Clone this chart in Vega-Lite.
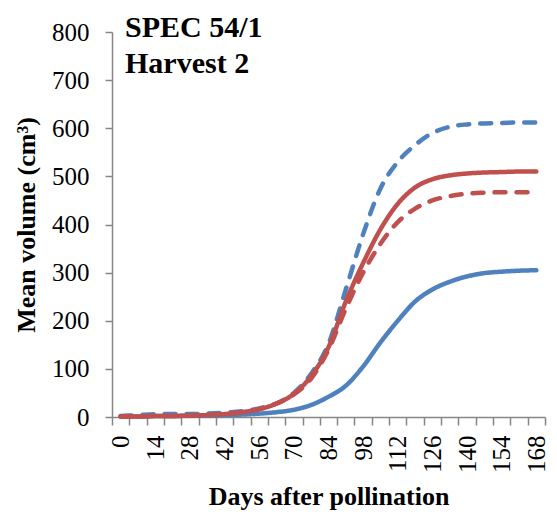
{
  "$schema": "https://vega.github.io/schema/vega-lite/v6.json",
  "width": 433,
  "height": 385,
  "autosize": "none",
  "padding": {"left": 112, "top": 32, "right": 12, "bottom": 98},
  "config": {
    "font": "Liberation Serif",
    "view": {"stroke": null},
    "axis": {
      "domainColor": "#868686",
      "tickColor": "#868686",
      "domainWidth": 1.5,
      "tickWidth": 1.5,
      "labelColor": "#000000",
      "labelFontSize": 25,
      "labelFont": "Liberation Serif",
      "titleFont": "Liberation Serif",
      "titleFontSize": 26,
      "titleFontWeight": "bold",
      "titleColor": "#000000",
      "grid": false
    }
  },
  "title": {
    "text": ["SPEC 54/1", "Harvest 2"],
    "anchor": "start",
    "frame": "group",
    "orient": "top",
    "offset": -59,
    "dx": 13,
    "lineHeight": 36,
    "font": "Liberation Serif",
    "fontSize": 30,
    "fontWeight": "bold",
    "color": "#000000"
  },
  "data": {
    "values": [
      {"day": 0, "series": "BD", "value": 2}, {"day": 0, "series": "BS", "value": 1}, {"day": 0, "series": "RS", "value": 1}, {"day": 0, "series": "RD", "value": 1},
      {"day": 7, "series": "BD", "value": 4}, {"day": 7, "series": "BS", "value": 1}, {"day": 7, "series": "RS", "value": 1}, {"day": 7, "series": "RD", "value": 1},
      {"day": 14, "series": "BD", "value": 6}, {"day": 14, "series": "BS", "value": 2}, {"day": 14, "series": "RS", "value": 2}, {"day": 14, "series": "RD", "value": 2},
      {"day": 21, "series": "BD", "value": 6}, {"day": 21, "series": "BS", "value": 2}, {"day": 21, "series": "RS", "value": 2}, {"day": 21, "series": "RD", "value": 2},
      {"day": 28, "series": "BD", "value": 6}, {"day": 28, "series": "BS", "value": 3}, {"day": 28, "series": "RS", "value": 3}, {"day": 28, "series": "RD", "value": 3},
      {"day": 35, "series": "BD", "value": 7}, {"day": 35, "series": "BS", "value": 3}, {"day": 35, "series": "RS", "value": 4}, {"day": 35, "series": "RD", "value": 4},
      {"day": 42, "series": "BD", "value": 9}, {"day": 42, "series": "BS", "value": 4}, {"day": 42, "series": "RS", "value": 6}, {"day": 42, "series": "RD", "value": 6},
      {"day": 49, "series": "BD", "value": 12}, {"day": 49, "series": "BS", "value": 5}, {"day": 49, "series": "RS", "value": 10}, {"day": 49, "series": "RD", "value": 10},
      {"day": 56, "series": "BD", "value": 18}, {"day": 56, "series": "BS", "value": 7}, {"day": 56, "series": "RS", "value": 16}, {"day": 56, "series": "RD", "value": 17},
      {"day": 63, "series": "BD", "value": 28}, {"day": 63, "series": "BS", "value": 10}, {"day": 63, "series": "RS", "value": 28}, {"day": 63, "series": "RD", "value": 28},
      {"day": 70, "series": "BD", "value": 50}, {"day": 70, "series": "BS", "value": 15}, {"day": 70, "series": "RS", "value": 48}, {"day": 70, "series": "RD", "value": 47},
      {"day": 77, "series": "BD", "value": 90}, {"day": 77, "series": "BS", "value": 25}, {"day": 77, "series": "RS", "value": 85}, {"day": 77, "series": "RD", "value": 80},
      {"day": 84, "series": "BD", "value": 152}, {"day": 84, "series": "BS", "value": 42}, {"day": 84, "series": "RS", "value": 145}, {"day": 84, "series": "RD", "value": 140},
      {"day": 91, "series": "BD", "value": 265}, {"day": 91, "series": "BS", "value": 65}, {"day": 91, "series": "RS", "value": 240}, {"day": 91, "series": "RD", "value": 225},
      {"day": 98, "series": "BD", "value": 380}, {"day": 98, "series": "BS", "value": 105}, {"day": 98, "series": "RS", "value": 320}, {"day": 98, "series": "RD", "value": 300},
      {"day": 105, "series": "BD", "value": 475}, {"day": 105, "series": "BS", "value": 155}, {"day": 105, "series": "RS", "value": 390}, {"day": 105, "series": "RD", "value": 360},
      {"day": 112, "series": "BD", "value": 530}, {"day": 112, "series": "BS", "value": 200}, {"day": 112, "series": "RS", "value": 443}, {"day": 112, "series": "RD", "value": 405},
      {"day": 119, "series": "BD", "value": 565}, {"day": 119, "series": "BS", "value": 240}, {"day": 119, "series": "RS", "value": 477}, {"day": 119, "series": "RD", "value": 433},
      {"day": 126, "series": "BD", "value": 590}, {"day": 126, "series": "BS", "value": 265}, {"day": 126, "series": "RS", "value": 494}, {"day": 126, "series": "RD", "value": 450},
      {"day": 133, "series": "BD", "value": 603}, {"day": 133, "series": "BS", "value": 281}, {"day": 133, "series": "RS", "value": 502}, {"day": 133, "series": "RD", "value": 459},
      {"day": 140, "series": "BD", "value": 608}, {"day": 140, "series": "BS", "value": 292}, {"day": 140, "series": "RS", "value": 506}, {"day": 140, "series": "RD", "value": 464},
      {"day": 147, "series": "BD", "value": 610}, {"day": 147, "series": "BS", "value": 299}, {"day": 147, "series": "RS", "value": 508}, {"day": 147, "series": "RD", "value": 466},
      {"day": 154, "series": "BD", "value": 611}, {"day": 154, "series": "BS", "value": 302}, {"day": 154, "series": "RS", "value": 509}, {"day": 154, "series": "RD", "value": 467},
      {"day": 161, "series": "BD", "value": 612}, {"day": 161, "series": "BS", "value": 304}, {"day": 161, "series": "RS", "value": 510}, {"day": 161, "series": "RD", "value": 467},
      {"day": 168, "series": "BD", "value": 612}, {"day": 168, "series": "BS", "value": 305}, {"day": 168, "series": "RS", "value": 510}, {"day": 168, "series": "RD", "value": 467}
    ]
  },
  "layer": [
    {
      "transform": [{"filter": {"field": "series", "oneOf": ["BD", "BS"]}}],
      "mark": {"type": "line", "interpolate": "monotone", "strokeWidth": 4.5, "strokeCap": "round"},
      "encoding": {
        "x": {
          "field": "day", "type": "quantitative",
          "scale": {"domain": [-3.5, 171.5], "nice": false, "zero": false},
          "axis": {
            "orient": "bottom",
            "values": [0, 14, 28, 42, 56, 70, 84, 98, 112, 126, 140, 154, 168],
            "labelAngle": -90,
            "labelPadding": 10,
            "tickSize": 8,
            "tickOpacity": 0,
            "domain": false,
            "title": "Days after pollination",
            "titlePadding": 11
          }
        },
        "y": {
          "field": "value", "type": "quantitative",
          "scale": {"domain": [0, 800], "nice": false},
          "axis": {
            "values": [0, 100, 200, 300, 400, 500, 600, 700, 800],
            "tickSize": 7,
            "labelPadding": 16,
            "title": "Mean volume (cm³)",
            "titlePadding": 12
          }
        },
        "color": {"field": "series", "type": "nominal", "legend": null,
          "scale": {"domain": ["BD", "BS", "RS", "RD"], "range": ["#4F81BD", "#4F81BD", "#C0504D", "#C0504D"]}},
        "strokeDash": {"field": "series", "type": "nominal", "legend": null,
          "scale": {"domain": ["BD", "BS", "RS", "RD"], "range": [[11, 11], [1, 0], [1, 0], [11, 11]]}}
      }
    },
    {
      "transform": [{"filter": {"field": "series", "oneOf": ["RS", "RD"]}}],
      "mark": {"type": "line", "interpolate": "monotone", "strokeWidth": 4.5, "strokeCap": "round"},
      "encoding": {
        "x": {
          "field": "day", "type": "quantitative",
          "axis": {
            "orient": "bottom",
            "values": [-3.5, 3.5, 10.5, 17.5, 24.5, 31.5, 38.5, 45.5, 52.5, 59.5, 66.5, 73.5, 80.5, 87.5, 94.5, 101.5, 108.5, 115.5, 122.5, 129.5, 136.5, 143.5, 150.5, 157.5, 164.5, 171.5],
            "labels": false,
            "tickSize": 8,
            "title": null
          }
        },
        "y": {"field": "value", "type": "quantitative"},
        "color": {"field": "series", "type": "nominal", "legend": null},
        "strokeDash": {"field": "series", "type": "nominal", "legend": null}
      }
    }
  ],
  "resolve": {"axis": {"x": "independent"}}
}
